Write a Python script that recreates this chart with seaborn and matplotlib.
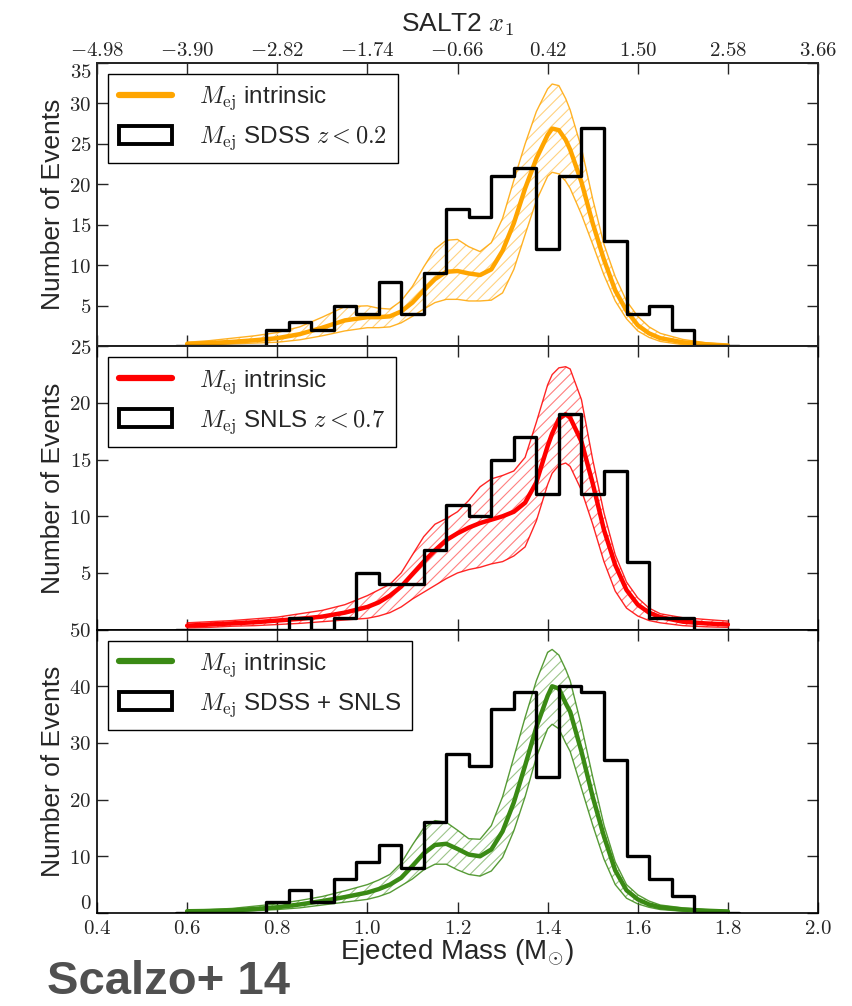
import numpy as np
import pandas as pd
import matplotlib
matplotlib.use("Agg")
import matplotlib.pyplot as plt
import seaborn as sns
from matplotlib.lines import Line2D
from matplotlib.patches import Patch

# ---------------------------------------------------------------- data
# histogram bin edges (ejected mass, solar masses)
bin_edges = [round(0.575 + 0.05 * k, 3) for k in range(26)]

# observed counts per bin
counts_sdss = [0, 0, 0, 0, 2, 3, 2, 5, 4, 8, 4, 9, 17, 16, 21, 22, 12, 21, 27, 13, 4, 5, 2, 0, 0]
counts_snls = [0, 0, 0, 0, 0, 1, 0, 1, 5, 4, 4, 7, 11, 10, 15, 17, 12, 19, 12, 14, 6, 1, 1, 0, 0]

# mass grid for the intrinsic distributions
mass_grid = [0.6, 0.65, 0.7, 0.75, 0.8, 0.85, 0.9, 0.95, 1.0, 1.025, 1.05, 1.075, 1.1,
             1.125, 1.15, 1.175, 1.2, 1.225, 1.25, 1.275, 1.3, 1.325, 1.35, 1.375, 1.4,
             1.41, 1.425, 1.44, 1.45, 1.475, 1.5, 1.525, 1.55, 1.575, 1.6, 1.625, 1.65,
             1.7, 1.75, 1.8]

sdss_median = [0.3, 0.4, 0.55, 0.75, 1.0, 1.5, 2.3, 3.2, 3.6, 3.6, 3.7, 4.3, 5.4, 6.9, 8.3,
               9.2, 9.3, 9.0, 8.8, 9.5, 11.8, 15.2, 19.5, 23.2, 26.1, 26.9, 26.7, 25.5, 24.3,
               20.3, 15.2, 10.7, 6.9, 4.4, 2.6, 1.6, 1.0, 0.5, 0.25, 0.1]
sdss_upper = [0.5, 0.7, 1.0, 1.3, 1.7, 2.4, 3.6, 4.9, 5.0, 4.7, 4.6, 5.6, 7.4, 9.8, 12.0,
              13.1, 13.2, 12.3, 11.7, 12.8, 15.8, 20.5, 25.0, 29.0, 31.8, 32.4, 32.2, 30.6,
              29.2, 24.5, 18.2, 12.6, 8.6, 5.6, 3.7, 2.4, 1.6, 0.85, 0.45, 0.2]
sdss_lower = [0.15, 0.2, 0.3, 0.4, 0.5, 0.8, 1.3, 1.9, 2.3, 2.3, 2.4, 2.9, 3.7, 4.6, 5.4,
              5.8, 5.8, 5.6, 5.6, 5.7, 6.6, 9.5, 13.8, 18.0, 21.0, 21.5, 21.3, 20.4, 19.5,
              16.3, 12.6, 8.8, 5.6, 3.4, 1.9, 1.1, 0.6, 0.2, 0.1, 0.05]

snls_median = [0.35, 0.45, 0.55, 0.65, 0.8, 0.95, 1.15, 1.5, 2.0, 2.4, 3.0, 3.8, 4.9, 6.0,
               7.0, 7.9, 8.5, 9.0, 9.4, 9.7, 10.0, 10.4, 11.2, 13.0, 16.2, 17.3, 18.6, 19.0,
               18.7, 16.6, 12.9, 8.8, 5.7, 3.5, 2.2, 1.5, 1.1, 0.7, 0.55, 0.45]
snls_upper = [0.6, 0.7, 0.8, 0.95, 1.1, 1.4, 1.7, 2.2, 3.0, 3.5, 4.0, 5.0, 6.6, 8.2, 9.3,
              9.8, 10.4, 11.4, 12.6, 13.3, 13.6, 14.0, 15.2, 18.3, 21.6, 22.5, 23.1, 23.2,
              23.0, 20.3, 15.0, 10.3, 6.6, 4.2, 2.8, 1.9, 1.4, 1.05, 0.9, 0.75]
snls_lower = [0.15, 0.2, 0.3, 0.35, 0.45, 0.55, 0.7, 0.85, 1.0, 1.2, 1.5, 2.0, 2.7, 3.3,
              3.9, 4.5, 5.0, 5.3, 5.5, 5.8, 6.0, 6.5, 7.3, 9.6, 12.8, 13.8, 14.5, 14.7,
              14.4, 12.3, 9.3, 6.0, 3.4, 1.9, 1.2, 0.8, 0.6, 0.35, 0.25, 0.2]

all_median = [0.3, 0.35, 0.45, 0.7, 1.0, 1.5, 2.1, 2.8, 3.6, 4.2, 5.0, 6.2, 8.3, 10.5, 12.0,
              12.2, 11.3, 10.3, 10.0, 11.2, 14.4, 19.5, 26.0, 32.8, 38.3, 40.0, 39.6, 37.0,
              35.5, 28.5, 20.5, 13.5, 7.5, 4.0, 2.4, 1.5, 1.0, 0.6, 0.4, 0.25]
all_upper = [0.5, 0.6, 0.8, 1.2, 1.6, 2.2, 2.9, 3.9, 5.0, 5.8, 6.8, 8.8, 12.0, 15.0, 16.3,
             16.0, 14.6, 13.1, 13.0, 15.4, 20.5, 27.5, 34.5, 41.0, 46.0, 46.5, 45.5, 43.0,
             41.0, 33.0, 24.0, 15.5, 9.0, 5.0, 3.2, 2.1, 1.4, 0.9, 0.6, 0.45]
all_lower = [0.1, 0.15, 0.2, 0.4, 0.6, 0.9, 1.4, 1.9, 2.4, 2.9, 3.6, 4.8, 6.0, 7.6, 8.6,
             8.6, 7.6, 6.8, 6.5, 7.4, 9.8, 14.5, 20.5, 27.5, 32.5, 33.3, 32.5, 30.0, 28.5,
             22.0, 15.5, 9.5, 5.0, 2.6, 1.6, 1.0, 0.6, 0.3, 0.15, 0.1]

sample_labels = [r"$M_{\rm ej}$ SDSS $z < 0.2$",
                 r"$M_{\rm ej}$ SNLS $z < 0.7$",
                 r"$M_{\rm ej}$ SDSS + SNLS"]
intrinsic_label = r"$M_{\rm ej}$ intrinsic"
panel_colors = ["#ffa500", "#ff0000", "#3a8a14"]
y_limits = [35, 25, 50]
y_ticks = [[5, 10, 15, 20, 25, 30, 35], [5, 10, 15, 20, 25], [0, 10, 20, 30, 40, 50]]

mass_ticks = [0.4, 0.6, 0.8, 1.0, 1.2, 1.4, 1.6, 1.8, 2.0]
salt2_labels = ["-4.98", "-3.90", "-2.82", "-1.74", "-0.66", "0.42", "1.50", "2.58", "3.66"]

# ---------------------------------------------------------------- style
sns.set_theme(style="ticks")
plt.rcParams["font.family"] = ["Liberation Sans", "DejaVu Sans"]
plt.rcParams["mathtext.fontset"] = "cm"
plt.rcParams["hatch.linewidth"] = 0.8
plt.rcParams["axes.linewidth"] = 1.2

fig = plt.figure(figsize=(8.53, 10.06), dpi=100)
axes = fig.subplots(3, 1, sharex=True)
fig.subplots_adjust(left=0.1137, right=0.959, top=0.9374, bottom=0.0925, hspace=0)

bin_centers = [0.5 * (a + b) for a, b in zip(bin_edges[:-1], bin_edges[1:])]
counts_all = [a + b for a, b in zip(counts_sdss, counts_snls)]

panels = [
    (counts_sdss, sdss_median, sdss_lower, sdss_upper),
    (counts_snls, snls_median, snls_lower, snls_upper),
    (counts_all, all_median, all_lower, all_upper),
]

for i, (ax, (counts, med, lo, hi)) in enumerate(zip(axes, panels)):
    color = panel_colors[i]
    rgb = matplotlib.colors.to_rgb(color)

    # hatched uncertainty band
    ax.fill_between(mass_grid, lo, hi, facecolor="none",
                    edgecolor=(*rgb, 0.5), hatch="///", linewidth=0, zorder=1)
    sns.lineplot(x=mass_grid, y=lo, ax=ax, color=color, lw=1.0, alpha=0.85, zorder=2)
    sns.lineplot(x=mass_grid, y=hi, ax=ax, color=color, lw=1.0, alpha=0.85, zorder=2)
    sns.lineplot(x=mass_grid, y=med, ax=ax, color=color, lw=3.2, zorder=3)

    # observed histogram
    hist_df = pd.DataFrame({"mass": bin_centers, "count": counts})
    sns.histplot(data=hist_df, x="mass", weights="count", bins=bin_edges, element="step",
                 fill=False, color="black", linewidth=2.4, ax=ax, zorder=4)

    ax.set_xlim(0.4, 2.0)
    ax.set_ylim(0, y_limits[i])
    ax.set_yticks(y_ticks[i], labels=[f"${t}$" for t in y_ticks[i]])
    ax.set_xticks(mass_ticks)
    ax.set_ylabel("Number of Events", fontsize=19, labelpad=3)
    ax.set_xlabel("")
    ax.tick_params(direction="in", top=True, right=True, length=8, width=1.0,
                   labelsize=15, pad=4)
    for s in ax.spines.values():
        s.set_color("black")

    handles = [Line2D([0], [0], color=color, lw=4.5),
               Patch(facecolor="white", edgecolor="black", linewidth=2.8)]
    leg = ax.legend(handles, [intrinsic_label, sample_labels[i]], loc="upper left",
                    fontsize=17.5, frameon=True, fancybox=False, edgecolor="black",
                    handlelength=2.2, handleheight=0.75, handletextpad=1.1,
                    labelspacing=0.5, borderpad=0.45, borderaxespad=0.45)
    leg.get_frame().set_linewidth(1.0)
    leg.get_frame().set_alpha(1.0)

axes[2].set_xticks(mass_ticks, labels=[f"${v:.1f}$" for v in mass_ticks])
axes[2].set_xlabel(r"Ejected Mass (M$_{\odot}$)", fontsize=20, labelpad=0)
# the zero label sits just above the mass scale
axes[2].get_yticklabels()[0].set_va("bottom")

# SALT2 stretch scale along the top
top = axes[0].twiny()
top.set_xlim(0.4, 2.0)
top.set_xticks(mass_ticks, labels=[f"${s}$" for s in salt2_labels])
top.tick_params(direction="in", length=8, width=1.0, labelsize=15, pad=2)
top.set_xlabel(r"SALT2 $x_1$", fontsize=19, labelpad=7)
axes[0].get_yticklabels()[-1].set_va("top")

fig.text(0.055, 0.002, "Scalzo+ 14", fontsize=34, fontweight="bold",
         color="#505050", ha="left", va="bottom")

fig.savefig("out.png", dpi=100)
